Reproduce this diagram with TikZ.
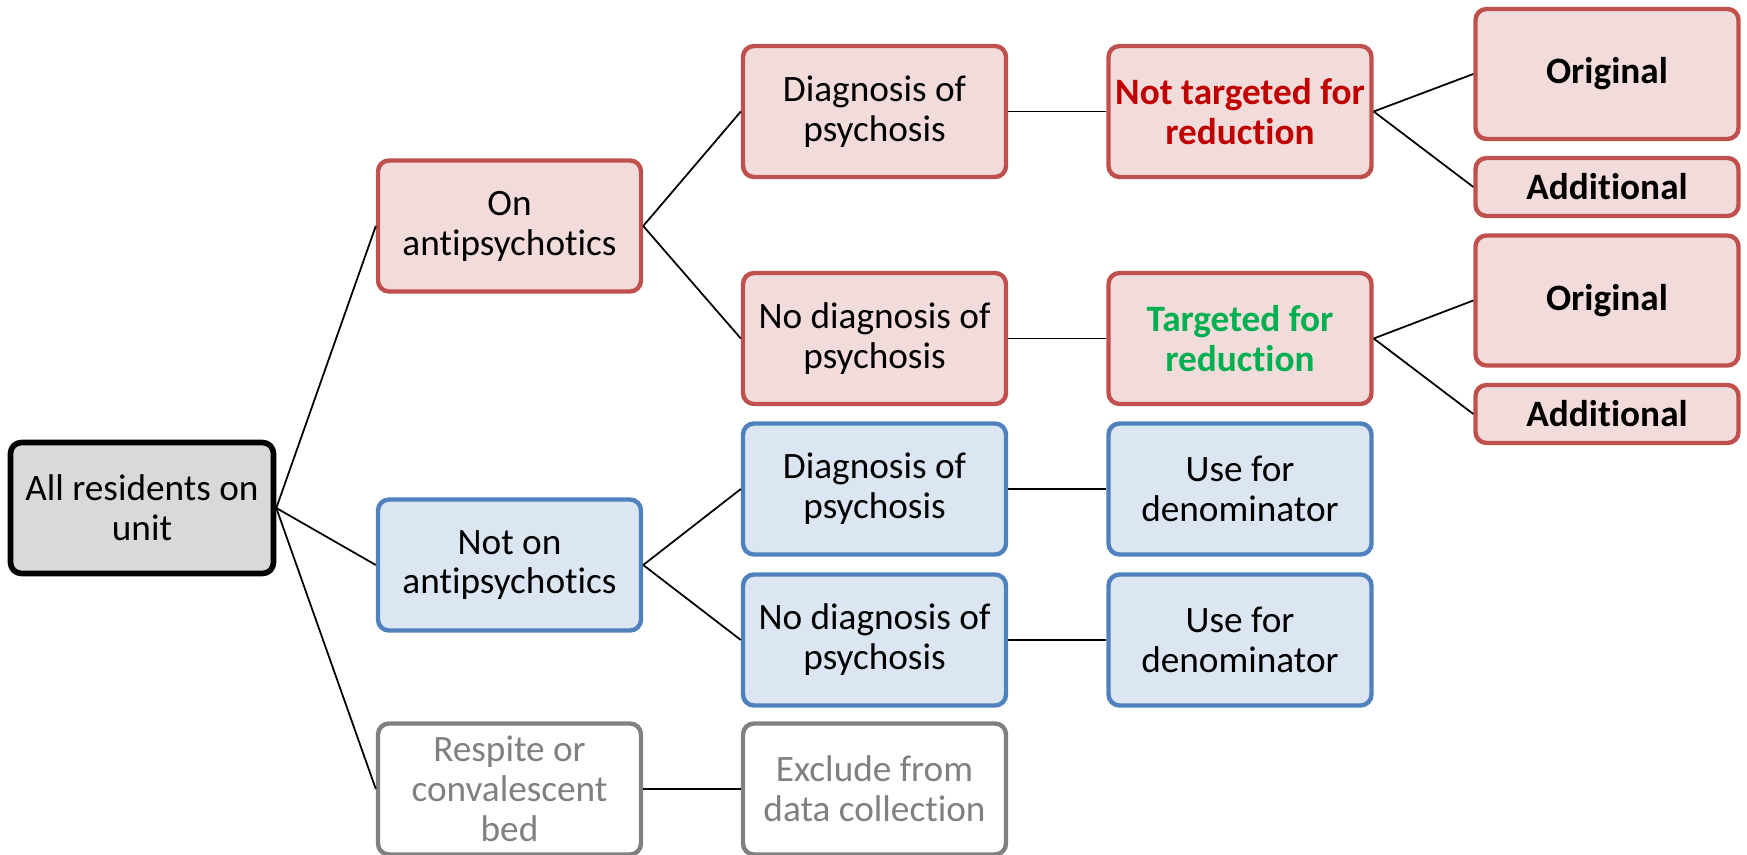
\documentclass[tikz,border=0pt]{standalone}
\usepackage{fontspec}
\setmainfont{Carlito}[Ligatures=NoCommon]
\usetikzlibrary{positioning}
\definecolor{redline}{HTML}{C0504D}
\definecolor{redfill}{HTML}{F2DCDB}
\definecolor{blueline}{HTML}{4F81BD}
\definecolor{bluefill}{HTML}{DCE6F2}
\definecolor{greyfill}{HTML}{D9D9D9}
\definecolor{greyline}{HTML}{808080}
\definecolor{notred}{HTML}{C00000}
\definecolor{yesgreen}{HTML}{00B050}

\begin{document}
\begin{tikzpicture}[on grid, node distance=7.3cm,
    box/.style={rectangle, rounded corners=0.22cm, minimum width=5.26cm,
        minimum height=2.62cm, inner sep=0pt, align=center, line width=2.5pt,
        font=\fontsize{21.2}{22.7}\selectfont},
    rootbox/.style={box, draw=black, fill=greyfill, line width=3.2pt},
    redbox/.style={box, draw=redline, fill=redfill},
    bluebox/.style={box, draw=blueline, fill=bluefill},
    outbox/.style={box, draw=greyline, fill=white, text=greyline},
    smallbox/.style={redbox, minimum height=1.16cm, font=\fontsize{21.2}{22.7}\selectfont\bfseries},
    every edge/.append style={line width=1pt}]
    \useasboundingbox (0,0) rectangle (34.94,-17.10);

    \node[rootbox] (all) at (2.84,-10.16) {All residents on\\unit};

    % second column
    \node[redbox, above right=5.64cm and 7.35cm of all] (onap) {On\\antipsychotics};
    \node[bluebox, below right=1.14cm and 7.35cm of all] (notap) {Not on\\antipsychotics};
    \node[outbox, below right=5.62cm and 7.35cm of all] (resp) {Respite or\\convalescent\\bed};

    % third column
    \node[redbox, above right=2.29cm and 7.30cm of onap] (dxr) {Diagnosis of\\psychosis};
    \node[redbox, below right=2.25cm and 7.30cm of onap] (nodxr) {No diagnosis of\\psychosis};
    \node[bluebox, above right=1.52cm and 7.30cm of notap] (dxb) {Diagnosis of\\psychosis};
    \node[bluebox, below right=1.50cm and 7.30cm of notap] (nodxb) {No diagnosis of\\psychosis};
    \node[outbox, right=7.30cm of resp] (excl) {Exclude from\\data collection};

    % fourth column
    \node[redbox, right=7.31cm of dxr, text=notred, font=\fontsize{21.2}{22.7}\selectfont\bfseries] (nott) {Not targeted for\\reduction};
    \node[redbox, right=7.31cm of nodxr, text=yesgreen, font=\fontsize{21.2}{22.7}\selectfont\bfseries] (targ) {Targeted for\\reduction};
    \node[bluebox, right=7.31cm of dxb] (den1) {Use for\\denominator};
    \node[bluebox, right=7.31cm of nodxb] (den2) {Use for\\denominator};

    % last column
    \node[smallbox, minimum height=2.60cm, above right=0.75cm and 7.34cm of nott] (orig1) {Original};
    \node[smallbox, below right=1.51cm and 7.34cm of nott] (add1) {Additional};
    \node[smallbox, minimum height=2.60cm, above right=0.76cm and 7.34cm of targ] (orig2) {Original};
    \node[smallbox, below right=1.51cm and 7.34cm of targ] (add2) {Additional};

    \path
        (all.east) edge (onap.west)
        (all.east) edge (notap.west)
        (all.east) edge (resp.west)
        (onap.east) edge (dxr.west)
        (onap.east) edge (nodxr.west)
        (notap.east) edge (dxb.west)
        (notap.east) edge (nodxb.west)
        (resp.east) edge (excl.west)
        (dxr.east) edge (nott.west)
        (nodxr.east) edge (targ.west)
        (dxb.east) edge (den1.west)
        (nodxb.east) edge (den2.west)
        (nott.east) edge (orig1.west)
        (nott.east) edge (add1.west)
        (targ.east) edge (orig2.west)
        (targ.east) edge (add2.west);
\end{tikzpicture}
\end{document}
